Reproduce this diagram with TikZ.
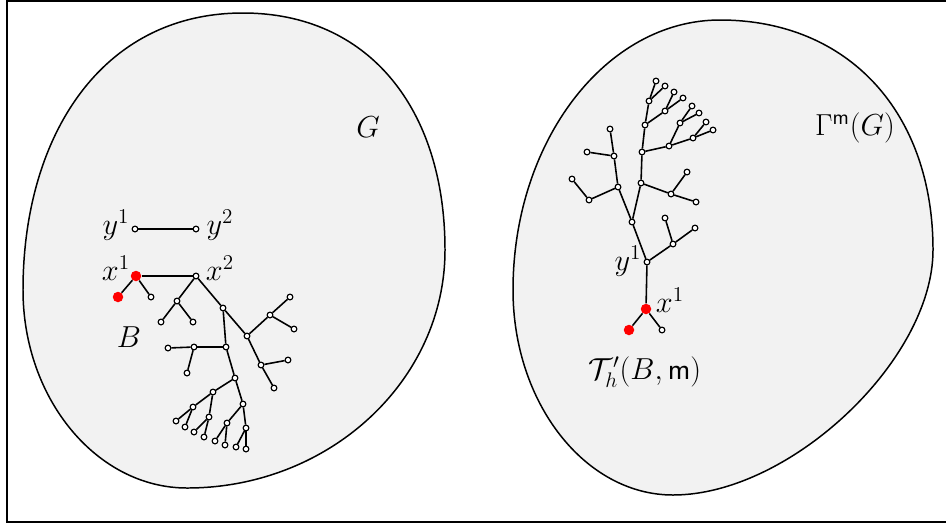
\documentclass[tikz,border=0pt]{standalone}
\usepackage{amsmath,amssymb}
\usetikzlibrary{positioning}
\definecolor{cBlob}{HTML}{F2F2F2}
\definecolor{cRed}{HTML}{FF0000}
\tikzset{
  vtx/.style={circle,draw=black,line width=0.65pt,fill=white,minimum size=0.115cm,inner sep=0pt},
  rvtx/.style={circle,fill=cRed,minimum size=0.21cm,inner sep=0pt},
  edg/.style={line width=0.9pt,black},
  blob/.style={draw=black,line width=0.85pt,fill=cBlob},
  lbl/.style={font=\LARGE,inner sep=0pt},
}

\begin{document}
\begin{tikzpicture}[x=0.02cm,y=-0.02cm]
  \useasboundingbox (0,0) rectangle (946,525);
  \draw[line width=0.8pt] (7,1) rectangle (960,522);
  % the two regions
  \draw[blob] (243,13) .. controls (368,13) and (445,108) .. (445,250)
    .. controls (445,381) and (329,488) .. (187,488)
    .. controls (97,488) and (23,399) .. (23,290)
    .. controls (23,138) and (100,13) .. cycle;
  \draw[blob] (720,20) .. controls (848,20) and (933,112) .. (933,250)
    .. controls (933,360) and (790,495) .. (673,495)
    .. controls (585,495) and (513,403) .. (513,290)
    .. controls (513,141) and (606,20) .. cycle;
  \node[lbl] (tG) at (368,127) {$G$};
  \node[lbl] (tGam) at (855,128) {$\Gamma^{\mathsf{m}}(G)$};

  % left: B inside G
  \node[vtx] (Lya) at (135,229) {};
  \node[vtx] (Lyb) at (196,229) {};
  \node[rvtx] (Lxa) at (136,276) {};
  \node[vtx] (Lxb) at (196,276) {};
  \node[rvtx] (Lxr) at (118,297) {};
  \node[vtx] (Lxl) at (151,297) {};
  \node[vtx] (La) at (177,301) {};
  \node[vtx] (La1) at (161,322) {};
  \node[vtx] (La2) at (193,322) {};
  \node[vtx] (Lb) at (223,308) {};
  \node[vtx] (Lc) at (247,336) {};
  \node[vtx] (Ld) at (270,315) {};
  \node[vtx] (Ld1) at (290,297) {};
  \node[vtx] (Ld2) at (294,329) {};
  \node[vtx] (Le) at (261,365) {};
  \node[vtx] (Le1) at (288,360) {};
  \node[vtx] (Le2) at (274,388) {};
  \node[vtx] (Lf) at (226,347) {};
  \node[vtx] (Lg) at (194,347) {};
  \node[vtx] (Lg1) at (168,348) {};
  \node[vtx] (Lg2) at (187,373) {};
  \node[vtx] (Lh) at (235,378) {};
  \node[vtx] (Li) at (213,392) {};
  \node[vtx] (Lj) at (193,407) {};
  \node[vtx] (Lj1) at (176,421) {};
  \node[vtx] (Lj2) at (185,427) {};
  \node[vtx] (Lk) at (209,417) {};
  \node[vtx] (Lk1) at (194,432) {};
  \node[vtx] (Lk2) at (204,437) {};
  \node[vtx] (Ll) at (243,404) {};
  \node[vtx] (Lm) at (227,423) {};
  \node[vtx] (Lm1) at (215,441) {};
  \node[vtx] (Lm2) at (225,445) {};
  \node[vtx] (Ln) at (246,428) {};
  \node[vtx] (Ln1) at (236,447) {};
  \node[vtx] (Ln2) at (246,449) {};
  \foreach \a/\b in {Lya/Lyb,Lxa/Lxb,Lxa/Lxr,Lxa/Lxl,Lxb/La,La/La1,La/La2,Lxb/Lb,Lb/Lc,Lc/Ld,Ld/Ld1,Ld/Ld2,Lc/Le,Le/Le1,Le/Le2,
    Lb/Lf,Lf/Lg,Lg/Lg1,Lg/Lg2,Lf/Lh,Lh/Li,Li/Lj,Lj/Lj1,Lj/Lj2,Li/Lk,Lk/Lk1,Lk/Lk2,Lh/Ll,Ll/Lm,Lm/Lm1,Lm/Lm2,Ll/Ln,Ln/Ln1,Ln/Ln2}
    \draw[edg] (\a) -- (\b);
  \node[lbl] (tLya) at (116,225) {$y^1$};
  \node[lbl] (tLyb) at (220,225) {$y^2$};
  \node[lbl] (tLxa) at (116,268) {$x^1$};
  \node[lbl] (tLxb) at (220,268) {$x^2$};
  \node[lbl] (tB) at (129,337) {$B$};

  % right: the tree T'_h(B,m)
  \node[rvtx] (Rxa) at (646,309) {};
  \node[rvtx] (Rxr) at (629,330) {};
  \node[vtx] (Rxl) at (662,330) {};
  \node[vtx] (Rya) at (647,262) {};
  \node[vtx] (Rp) at (673,244) {};
  \node[vtx] (Rp1) at (665,218) {};
  \node[vtx] (Rp2) at (695,228) {};
  \node[vtx] (Rq) at (632,222) {};
  \node[vtx] (Rr) at (618,187) {};
  \node[vtx] (Rs) at (589,200) {};
  \node[vtx] (Rs1) at (572,179) {};
  \node[vtx] (Rt) at (614,156) {};
  \node[vtx] (Rt1) at (587,152) {};
  \node[vtx] (Rt2) at (610,129) {};
  \node[vtx] (Ru) at (641,183) {};
  \node[vtx] (Rv) at (671,194) {};
  \node[vtx] (Rv1) at (687,172) {};
  \node[vtx] (Rv2) at (696,202) {};
  \node[vtx] (Rw) at (642,152) {};
  \node[vtx] (Rz) at (669,146) {};
  \node[vtx] (Rza) at (680,123) {};
  \node[vtx] (Rza1) at (692,106) {};
  \node[vtx] (Rza2) at (699,113) {};
  \node[vtx] (Rzb) at (693,138) {};
  \node[vtx] (Rzb1) at (706,122) {};
  \node[vtx] (Rzb2) at (713,130) {};
  \node[vtx] (Ro) at (645,125) {};
  \node[vtx] (Roa) at (649,101) {};
  \node[vtx] (Roa1) at (656,81) {};
  \node[vtx] (Roa2) at (665,86) {};
  \node[vtx] (Rob) at (665,111) {};
  \node[vtx] (Rob1) at (674,92) {};
  \node[vtx] (Rob2) at (683,98) {};
  \foreach \a/\b in {Rxa/Rya,Rxa/Rxr,Rxa/Rxl,Rya/Rp,Rp/Rp1,Rp/Rp2,Rya/Rq,Rq/Rr,Rr/Rs,Rs/Rs1,Rr/Rt,Rt/Rt1,Rt/Rt2,
    Rq/Ru,Ru/Rv,Rv/Rv1,Rv/Rv2,Ru/Rw,Rw/Rz,Rz/Rza,Rza/Rza1,Rza/Rza2,Rz/Rzb,Rzb/Rzb1,Rzb/Rzb2,
    Rw/Ro,Ro/Roa,Roa/Roa1,Roa/Roa2,Ro/Rob,Rob/Rob1,Rob/Rob2}
    \draw[edg] (\a) -- (\b);
  \node[lbl] (tRya) at (628,261) {$y^1$};
  \node[lbl] (tRxa) at (670,300) {$x^1$};
  \node[lbl] (tT) at (645,372) {$\mathcal{T}'_h(B,\mathsf{m})$};
\end{tikzpicture}
\end{document}
